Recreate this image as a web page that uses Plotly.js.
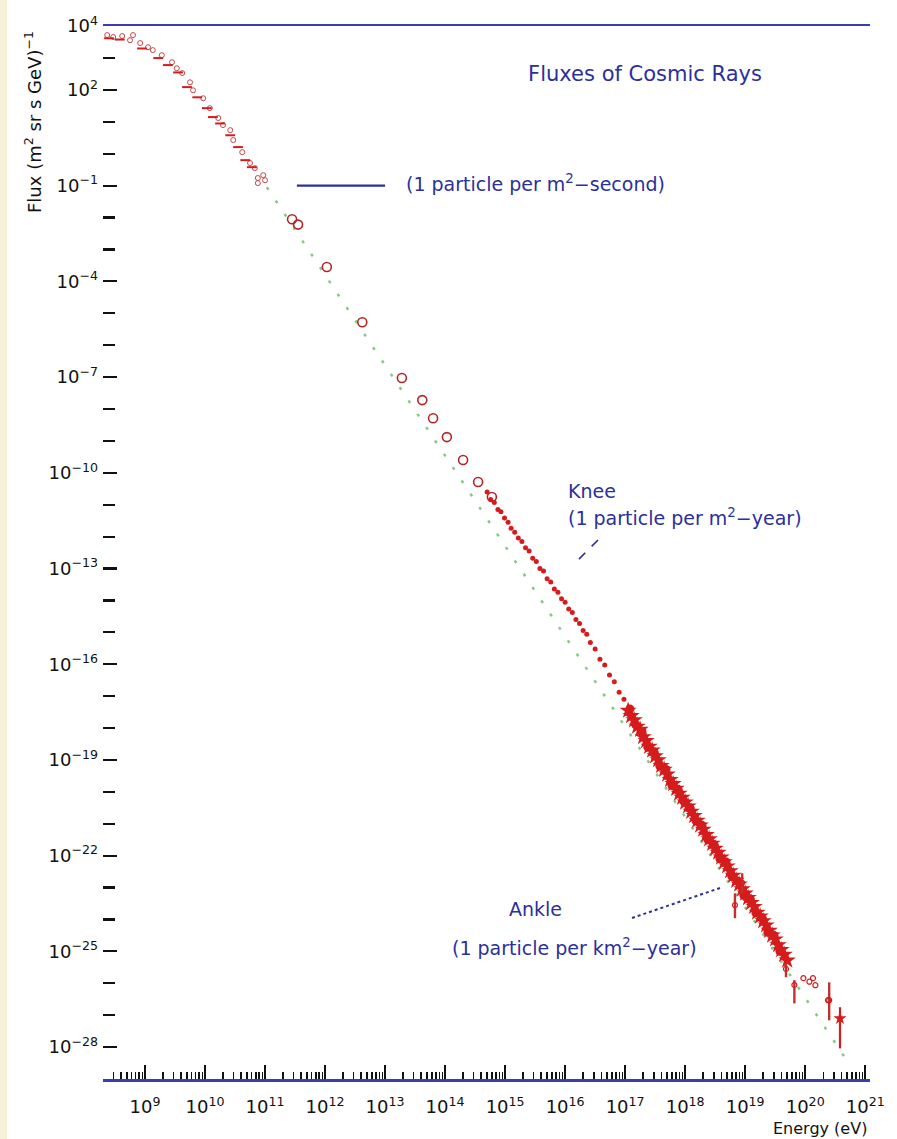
<!DOCTYPE html>
<html>
<head>
<meta charset="utf-8">
<script src="https://cdn.plot.ly/plotly-3.0.1.min.js"></script>
<style>
  html, body { margin: 0; padding: 0; background: #ffffff; }
  #chart { width: 897px; height: 1139px; }
</style>
</head>
<body>
<div id="chart"></div>
<script>
// ---- Measured cosmic-ray flux (values given as log10 of energy in eV and flux in (m^2 sr s GeV)^-1) ----

// Direct measurements below ~10^11 eV, scattered track
const directA_logE    = [8.37, 8.47, 8.62, 8.75, 8.80, 8.92, 9.05, 9.13, 9.28, 9.45, 9.53, 9.62, 9.75, 9.80, 9.97, 10.08, 10.22, 10.30, 10.42, 10.47, 10.62, 10.75, 10.83, 10.88, 10.97, 11.00, 10.88];
const directA_logFlux = [3.72, 3.66, 3.69, 3.56, 3.72, 3.47, 3.34, 3.25, 3.09, 2.87, 2.68, 2.53, 2.24, 1.99, 1.74, 1.43, 1.12, 0.90, 0.74, 0.43, 0.05, -0.29, -0.45, -0.76, -0.67, -0.83, -0.92];

// Direct measurements, denser track
const directB_logE    = [8.40, 8.58, 8.95, 9.22, 9.38, 9.55, 9.70, 9.87, 10.03, 10.13, 10.25, 10.42, 10.55, 10.67, 10.78];
const directB_logFlux = [3.62, 3.58, 3.30, 3.00, 2.78, 2.55, 2.09, 1.77, 1.43, 1.15, 0.95, 0.58, 0.21, -0.20, -0.42];

// Balloon / satellite points between 10^11 and 10^15 eV
const mid_logE    = [11.45, 11.55, 12.03, 12.62, 13.28, 13.62, 13.80, 14.03, 14.30, 14.55, 14.78];
const mid_logFlux = [-2.05, -2.22, -3.55, -5.28, -7.03, -7.72, -8.29, -8.88, -9.60, -10.29, -10.76];

// Air-shower data around the knee
const knee_logE    = [14.70, 14.76, 14.82, 14.88, 14.93, 14.99, 15.05, 15.10, 15.16, 15.22, 15.28, 15.34, 15.40, 15.46, 15.52, 15.58, 15.64, 15.70, 15.76, 15.82, 15.88, 15.94, 16.00, 16.06, 16.12, 16.18, 16.24, 16.30, 16.36, 16.42, 16.50, 16.58, 16.66, 16.74, 16.82, 16.90, 16.98, 17.05];
const knee_logFlux = [-10.60, -10.84, -10.93, -11.15, -11.22, -11.42, -11.55, -11.74, -11.86, -12.04, -12.15, -12.35, -12.45, -12.68, -12.78, -13.00, -13.08, -13.32, -13.42, -13.64, -13.74, -13.95, -14.06, -14.27, -14.38, -14.60, -14.72, -14.94, -15.06, -15.32, -15.52, -15.84, -16.02, -16.34, -16.55, -16.88, -17.10, -17.42];

// High-energy air-shower data, main set
const uhe_logE    = [17.05, 17.10, 17.15, 17.20, 17.25, 17.30, 17.35, 17.40, 17.45, 17.50, 17.55, 17.60, 17.65, 17.70, 17.75, 17.80, 17.85, 17.90, 17.95, 18.00, 18.05, 18.10, 18.15, 18.20, 18.25, 18.30, 18.35, 18.40, 18.45, 18.50, 18.55, 18.60, 18.65, 18.70, 18.75, 18.80, 18.85, 18.90, 18.95, 19.00, 19.05, 19.10, 19.15, 19.20, 19.25, 19.30, 19.35, 19.40, 19.45, 19.50, 19.55, 19.60, 19.65, 19.70];
const uhe_logFlux = [-17.45, -17.62, -17.75, -17.95, -18.05, -18.28, -18.40, -18.58, -18.70, -18.88, -19.00, -19.18, -19.30, -19.45, -19.62, -19.75, -19.90, -20.05, -20.18, -20.33, -20.45, -20.62, -20.75, -20.90, -21.05, -21.18, -21.35, -21.48, -21.62, -21.78, -21.90, -22.05, -22.20, -22.33, -22.48, -22.62, -22.78, -22.90, -23.05, -23.18, -23.32, -23.48, -23.60, -23.78, -23.90, -24.05, -24.18, -24.35, -24.50, -24.62, -24.80, -24.95, -25.10, -25.28];

// High-energy air-shower data, second set
const uhe2_logE    = [17.08, 17.18, 17.28, 17.38, 17.48, 17.58, 17.68, 17.78, 17.88, 17.98, 18.08, 18.18, 18.28, 18.38, 18.48, 18.58, 18.68, 18.78, 18.88, 18.98, 19.08, 19.18, 19.28, 19.38, 19.48, 19.58];
const uhe2_logFlux = [-17.40, -17.90, -18.10, -18.60, -18.75, -19.20, -19.30, -19.80, -19.92, -20.30, -20.50, -20.90, -21.05, -21.50, -21.65, -22.10, -22.20, -22.65, -22.80, -23.25, -23.35, -23.80, -23.95, -24.40, -24.50, -25.00];

// Points carrying visible error bars (value, upper and lower end of the bar)
const bar_logE     = [18.83, 18.95, 19.68, 19.82, 20.40];
const bar_logFlux  = [-23.55, -22.85, -25.55, -26.05, -26.53];
const bar_logHigh  = [-23.18, -22.55, -25.37, -25.90, -25.97];
const bar_logLow   = [-23.96, -23.18, -25.81, -26.63, -27.16];

// Highest-energy open points
const tail_logE    = [19.97, 20.07, 20.13, 20.17, 20.38];
const tail_logFlux = [-25.84, -25.95, -25.84, -26.06, -26.53];

// Highest-energy event with its error bar
const top_logE    = [20.58];
const top_logFlux = [-27.10];
const top_logHigh = [-26.75];
const top_logLow  = [-28.04];

// Reference power law (dotted green)
const powerLaw_logE    = [11.03, 20.67];
const powerLaw_logFlux = [-1.05, -28.35];

// "1 particle per m^2-second" level
const perSecond_logE    = [11.53, 13.00];
const perSecond_logFlux = [-1.0, -1.0];

// Axis ticks
const xTickExponents = [9, 10, 11, 12, 13, 14, 15, 16, 17, 18, 19, 20, 21];
const yLabelExponents = [4, 2, -1, -4, -7, -10, -13, -16, -19, -22, -25, -28];
const yTickExponents = [];
for (let n = -28; n <= 4; n++) yTickExponents.push(n);

// ---- helpers ----
const pow10 = a => a.map(v => Math.pow(10, v));
const supLabel = n => '10<sup>' + (n < 0 ? '\u2212' + (-n) : n) + '</sup>';

const RED = '#d41c1c';
const NAVY = '#2c2f9c';
const FONT = 'DejaVu Sans, Verdana, sans-serif';

// plot area in pixels: left 103, right 870, top 26, bottom 1079
const L = 103, R = 870, T = 26, B = 1079;
const px = x => (x - L) / (R - L);
const py = y => (B - y) / (B - T);

const traces = [
  {
    x: pow10(powerLaw_logE), y: pow10(powerLaw_logFlux),
    mode: 'lines', line: { color: '#86c986', width: 2.5, dash: '3px,13px' },
    hoverinfo: 'skip'
  },
  {
    x: pow10(directA_logE), y: pow10(directA_logFlux),
    mode: 'markers',
    marker: { symbol: 'circle-open', size: 5, color: '#c74848', line: { width: 1, color: '#c74848' } }
  },
  {
    x: pow10(directB_logE), y: pow10(directB_logFlux),
    mode: 'markers',
    marker: { symbol: 'line-ew-open', size: 7, color: RED, line: { width: 2, color: RED } }
  },
  {
    x: pow10(mid_logE), y: pow10(mid_logFlux),
    mode: 'markers',
    marker: { symbol: 'circle-open', size: 9, color: '#b52424', line: { width: 1.6, color: '#b52424' } }
  },
  {
    x: pow10(knee_logE), y: pow10(knee_logFlux),
    mode: 'markers',
    marker: { symbol: 'circle', size: 5, color: RED }
  },
  {
    x: pow10(uhe2_logE), y: pow10(uhe2_logFlux),
    mode: 'markers',
    marker: { symbol: 'circle', size: 9, color: RED }
  },
  {
    x: pow10(uhe_logE), y: pow10(uhe_logFlux),
    mode: 'markers',
    marker: { symbol: 'star', size: 13, color: RED, line: { width: 0 } }
  },
  {
    x: pow10(bar_logE), y: pow10(bar_logFlux),
    mode: 'markers',
    marker: { symbol: 'circle-open', size: 5, color: RED, line: { width: 1.2, color: RED } },
    error_y: {
      type: 'data', symmetric: false,
      array: bar_logFlux.map((v, i) => Math.pow(10, bar_logHigh[i]) - Math.pow(10, v)),
      arrayminus: bar_logFlux.map((v, i) => Math.pow(10, v) - Math.pow(10, bar_logLow[i])),
      color: '#c23030', thickness: 2.4, width: 0
    }
  },
  {
    x: pow10(tail_logE), y: pow10(tail_logFlux),
    mode: 'markers',
    marker: { symbol: 'circle-open', size: 5, color: RED, line: { width: 1.2, color: RED } }
  },
  {
    x: pow10(top_logE), y: pow10(top_logFlux),
    mode: 'markers',
    marker: { symbol: 'star', size: 10, color: RED },
    error_y: {
      type: 'data', symmetric: false,
      array: top_logFlux.map((v, i) => Math.pow(10, top_logHigh[i]) - Math.pow(10, v)),
      arrayminus: top_logFlux.map((v, i) => Math.pow(10, v) - Math.pow(10, top_logLow[i])),
      color: RED, thickness: 2.2, width: 0
    }
  },
  {
    x: pow10(perSecond_logE), y: pow10(perSecond_logFlux),
    mode: 'lines', line: { color: NAVY, width: 2.2 },
    hoverinfo: 'skip'
  }
];

// minor x ticks at 2..9 times each decade
const xMinor = [];
for (let n = 8; n <= 20; n++) for (let d = 2; d <= 9; d++) xMinor.push(d * Math.pow(10, n));

// unlabeled decade ticks on the flux axis
const yUnlabeled = yTickExponents.filter(n => !yLabelExponents.includes(n)).map(n => Math.pow(10, n));

const textFont = { family: FONT, size: 19, color: NAVY };

const layout = {
  width: 897, height: 1139, autosize: false,
  margin: { l: L, r: 897 - R, t: T, b: 1139 - B, pad: 0 },
  paper_bgcolor: '#ffffff', plot_bgcolor: '#ffffff',
  showlegend: false,
  title: {
    text: 'Fluxes of Cosmic Rays',
    font: { family: FONT, size: 21, color: NAVY },
    xref: 'paper', x: px(645), xanchor: 'center',
    yref: 'container', y: 1 - 74 / 1139, yanchor: 'middle'
  },
  xaxis: {
    type: 'log', range: [8.30, 21.08],
    tickmode: 'array',
    tickvals: xTickExponents.map(n => Math.pow(10, n)),
    ticktext: xTickExponents.map(supLabel),
    ticks: 'inside', ticklen: 14, tickwidth: 2, tickcolor: '#111111',
    ticklabelstandoff: 10,
    minor: { tickmode: 'array', tickvals: xMinor, ticks: 'inside', ticklen: 7, tickwidth: 1.5, tickcolor: '#111111', showgrid: false },
    showline: true, linecolor: '#3a3ea8', linewidth: 2.5, mirror: true,
    showgrid: false, zeroline: false,
    tickfont: { family: FONT, size: 18, color: '#111111' }
  },
  yaxis: {
    type: 'log', range: [-29.0, 4.005],
    tickmode: 'array',
    tickvals: yLabelExponents.map(n => Math.pow(10, n)),
    ticktext: yLabelExponents.map(supLabel),
    ticks: 'inside', ticklen: 14, tickwidth: 2.2, tickcolor: '#111111',
    ticklabelstandoff: 4,
    minor: { tickmode: 'array', tickvals: yUnlabeled, ticks: 'inside', ticklen: 12, tickwidth: 2.2, tickcolor: '#111111', showgrid: false },
    showline: false, showgrid: false, zeroline: false,
    tickfont: { family: FONT, size: 18, color: '#111111' }
  },
  shapes: [
    // cream strip along the left edge of the page
    { type: 'rect', xref: 'paper', yref: 'paper', x0: px(0), x1: px(7), y0: py(1139), y1: py(0),
      fillcolor: '#f6f1d8', line: { width: 0 }, layer: 'below' },
    // knee pointer
    { type: 'line', xref: 'paper', yref: 'paper', x0: px(598), y0: py(540), x1: px(573), y1: py(565),
      line: { color: NAVY, width: 1.6, dash: 'dash' } },
    // ankle pointer
    { type: 'line', xref: 'paper', yref: 'paper', x0: px(632), y0: py(918), x1: px(720), y1: py(888),
      line: { color: NAVY, width: 2, dash: 'dot' } }
  ],
  annotations: [
    { text: '(1 particle per m<sup>2</sup>\u2212second)', xref: 'paper', yref: 'paper', x: px(404), y: py(183),
      xanchor: 'left', yanchor: 'middle', showarrow: false, font: textFont },
    { text: 'Knee', xref: 'paper', yref: 'paper', x: px(566), y: py(491),
      xanchor: 'left', yanchor: 'middle', showarrow: false, font: textFont },
    { text: '(1 particle per m<sup>2</sup>\u2212year)', xref: 'paper', yref: 'paper', x: px(566), y: py(517),
      xanchor: 'left', yanchor: 'middle', showarrow: false, font: textFont },
    { text: 'Ankle', xref: 'paper', yref: 'paper', x: px(507), y: py(909),
      xanchor: 'left', yanchor: 'middle', showarrow: false, font: textFont },
    { text: '(1 particle per km<sup>2</sup>\u2212year)', xref: 'paper', yref: 'paper', x: px(450), y: py(947),
      xanchor: 'left', yanchor: 'middle', showarrow: false, font: textFont },
    { text: 'Flux (m<sup>2</sup> sr s GeV)<sup>\u22121</sup>', xref: 'paper', yref: 'paper', x: px(33), y: py(122),
      xanchor: 'center', yanchor: 'middle', textangle: -90, showarrow: false,
      font: { family: FONT, size: 18, color: '#111111' } },
    { text: 'Energy (eV)', xref: 'paper', yref: 'paper', x: px(869), y: py(1128),
      xanchor: 'right', yanchor: 'middle', showarrow: false,
      font: { family: FONT, size: 16, color: '#111111' } }
  ]
};

Plotly.newPlot('chart', traces, layout, { staticPlot: true, displayModeBar: false });
</script>
</body>
</html>
